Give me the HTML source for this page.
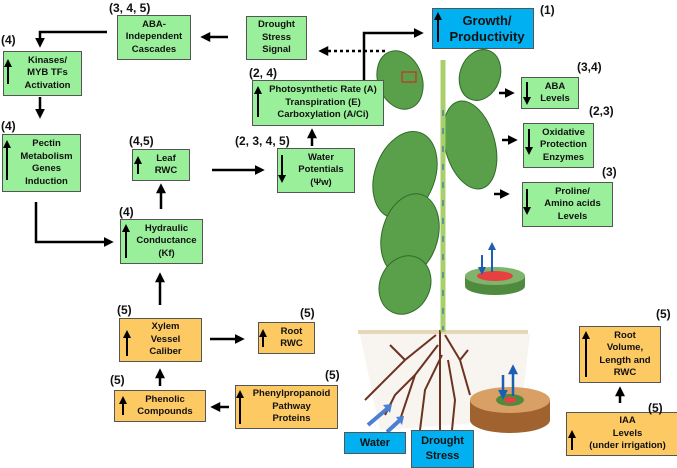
<!DOCTYPE html>
<html><head><meta charset="utf-8"><style>
body{margin:0;width:677px;height:466px;background:#fff;position:relative;overflow:hidden;font-family:"Liberation Sans",sans-serif;}
.b{position:absolute;box-sizing:border-box;border:1.3px solid #555;font-weight:bold;font-size:9.5px;line-height:12.5px;color:#111;display:flex;align-items:center;justify-content:center;text-align:center;padding-left:10px;}
.g{background:#9af09a;}
.o{background:#fcc963;}
.bl{background:#00b0f0;padding-left:0;}
.l{position:absolute;font-weight:bold;font-size:12px;color:#111;}
svg{position:absolute;left:0;top:0;}
</style></head><body>
<svg width="677" height="466" viewBox="0 0 677 466">
<defs>
<marker id="a" markerWidth="4" markerHeight="4" refX="2.5" refY="2" orient="auto" markerUnits="strokeWidth"><path d="M0,0 L4,2 L0,4 z" fill="#000"/></marker>
<marker id="u" markerWidth="4" markerHeight="4" refX="2.5" refY="2" orient="auto" markerUnits="strokeWidth"><path d="M0,0 L4,2 L0,4 z" fill="#1a5fb4"/></marker>
</defs>
<rect x="358" y="330" width="170" height="4" fill="#e8d6b8"/>
<path d="M360,334 L530,334 L520,420 L380,430 z" fill="#f4ede4" opacity="0.6"/>
<g stroke="#6b3320" stroke-width="2" fill="none">
<path d="M440,330 L440,430"/><path d="M436,335 L405,360 L380,385 L365,400"/><path d="M438,345 L415,375 L400,420"/>
<path d="M445,335 L460,360 L470,395"/><path d="M442,355 L425,390 L420,430"/><path d="M405,360 L390,345"/><path d="M415,375 L395,395 L385,415"/>
<path d="M448,360 L455,400 L452,430"/><path d="M460,360 L468,350"/>
</g>
<g fill="#5aa04a" stroke="#2f6b2a" stroke-width="1">
<ellipse cx="400" cy="80" rx="22" ry="30" transform="rotate(-20 400 80)"/>
<ellipse cx="480" cy="75" rx="20" ry="26" transform="rotate(20 480 75)"/>
<ellipse cx="470" cy="145" rx="25" ry="45" transform="rotate(-15 470 145)"/>
<ellipse cx="405" cy="175" rx="30" ry="45" transform="rotate(20 405 175)"/>
<ellipse cx="410" cy="235" rx="28" ry="42" transform="rotate(15 410 235)"/>
<ellipse cx="405" cy="285" rx="25" ry="30" transform="rotate(25 405 285)"/>
</g>
<path d="M443,60 L443,332" stroke="#a8cf6a" stroke-width="5"/>
<path d="M443,110 L443,330" stroke="#1a5fb4" stroke-width="1" stroke-dasharray="6,12"/>
<rect x="402" y="72" width="14" height="10" fill="none" stroke="#c0392b" stroke-width="1.3"/>
<ellipse cx="495" cy="286" rx="30" ry="9" fill="#4f8a3e"/><rect x="465" y="276" width="60" height="10" fill="#4f8a3e"/>
<ellipse cx="495" cy="276" rx="30" ry="9" fill="#7fb46a"/><ellipse cx="495" cy="276" rx="18" ry="5" fill="#e84040"/>
<line x1="482" y1="255" x2="482" y2="272" stroke="#1a5fb4" stroke-width="2" marker-end="url(#u)"/>
<line x1="492" y1="272" x2="492" y2="245" stroke="#1a5fb4" stroke-width="2" marker-end="url(#u)"/>
<ellipse cx="510" cy="420" rx="40" ry="13" fill="#a0622e"/><rect x="470" y="400" width="80" height="20" fill="#a0622e"/>
<ellipse cx="510" cy="400" rx="40" ry="13" fill="#d9a066"/><ellipse cx="510" cy="400" rx="14" ry="6" fill="#4f8a3e"/><ellipse cx="510" cy="400" rx="6" ry="3" fill="#e84040"/>
<line x1="503" y1="375" x2="503" y2="396" stroke="#1a5fb4" stroke-width="2.5" marker-end="url(#u)"/>
<line x1="513" y1="396" x2="513" y2="368" stroke="#1a5fb4" stroke-width="2.5" marker-end="url(#u)"/>
<g stroke="#4a7fd4" stroke-width="4"><line x1="368" y1="425" x2="388" y2="408"/><line x1="387" y1="432" x2="400" y2="420"/></g>
<path d="M392,404 L383,405 L390,413 z M404,416 L396,417 L402,425 z" fill="#4a7fd4"/>
<g stroke="#000" stroke-width="2.5" fill="none">
<polyline points="107,32 40,32 40,44" marker-end="url(#a)"/>
<line x1="228" y1="37" x2="204" y2="37" marker-end="url(#a)"/>
<line x1="385" y1="51" x2="322" y2="51" stroke-dasharray="3,3" marker-end="url(#a)"/>
<polyline points="364,80 364,33 420,33" marker-end="url(#a)"/>
<line x1="40" y1="97" x2="40" y2="115" marker-end="url(#a)"/>
<polyline points="36,202 36,242 110,242" marker-end="url(#a)"/>
<line x1="212" y1="170" x2="261" y2="170" marker-end="url(#a)"/>
<line x1="312" y1="146" x2="312" y2="132" marker-end="url(#a)"/>
<line x1="161" y1="209" x2="161" y2="187" marker-end="url(#a)"/>
<line x1="160" y1="305" x2="160" y2="276" marker-end="url(#a)"/>
<line x1="210" y1="339" x2="241" y2="339" marker-end="url(#a)"/>
<line x1="160" y1="386" x2="160" y2="372" marker-end="url(#a)"/>
<line x1="229" y1="407" x2="214" y2="407" marker-end="url(#a)"/>
<line x1="499" y1="93" x2="511" y2="93" marker-end="url(#a)"/>
<line x1="502" y1="140" x2="514" y2="140" marker-end="url(#a)"/>
<line x1="494" y1="194" x2="506" y2="194" marker-end="url(#a)"/>
<line x1="620" y1="403" x2="620" y2="390" marker-end="url(#a)"/>
</g>
</svg>

<div class="b g" style="left:117px;top:15px;width:74px;height:45px;padding-left:0">ABA-<br>Independent<br>Cascades</div>
<div class="b g" style="left:246px;top:16px;width:61px;height:44px;padding-left:0">Drought<br>Stress<br>Signal</div>
<div class="b g" style="left:3px;top:51px;width:79px;height:45px">Kinases/<br>MYB TFs<br>Activation</div>
<div class="b g" style="left:252px;top:80px;width:132px;height:46px">Photosynthetic Rate (A)<br>Transpiration (E)<br>Carboxylation (A/Ci)</div>
<div class="b g" style="left:2px;top:134px;width:79px;height:58px">Pectin<br>Metabolism<br>Genes<br>Induction</div>
<div class="b g" style="left:132px;top:149px;width:58px;height:32px">Leaf<br>RWC</div>
<div class="b g" style="left:277px;top:148px;width:78px;height:45px">Water<br>Potentials<br>(Ψw)</div>
<div class="b g" style="left:120px;top:219px;width:83px;height:45px">Hydraulic<br>Conductance<br>(Kf)</div>
<div class="b bl" style="left:432px;top:8px;width:102px;height:41px;font-size:13px;line-height:16px;padding-left:8px">Growth/<br>Productivity</div>
<div class="b g" style="left:521px;top:77px;width:58px;height:32px">ABA<br>Levels</div>
<div class="b g" style="left:523px;top:123px;width:71px;height:45px">Oxidative<br>Protection<br>Enzymes</div>
<div class="b g" style="left:522px;top:182px;width:91px;height:45px">Proline/<br>Amino acids<br>Levels</div>
<div class="b o" style="left:119px;top:318px;width:83px;height:44px">Xylem<br>Vessel<br>Caliber</div>
<div class="b o" style="left:258px;top:322px;width:57px;height:32px">Root<br>RWC</div>
<div class="b o" style="left:114px;top:390px;width:92px;height:32px">Phenolic<br>Compounds</div>
<div class="b o" style="left:235px;top:385px;width:103px;height:44px">Phenylpropanoid<br>Pathway<br>Proteins</div>
<div class="b bl" style="left:344px;top:432px;width:62px;height:22px;font-size:11px">Water</div>
<div class="b bl" style="left:411px;top:430px;width:63px;height:38px;font-size:11px;line-height:15px">Drought<br>Stress</div>
<div class="b o" style="left:579px;top:326px;width:82px;height:57px">Root<br>Volume,<br>Length and<br>RWC</div>
<div class="b o" style="left:566px;top:412px;width:113px;height:44px">IAA<br>Levels<br>(under irrigation)</div>

<svg width="677" height="466" viewBox="0 0 677 466">
<defs>
<marker id="a2" markerWidth="4" markerHeight="4" refX="2.5" refY="2" orient="auto" markerUnits="strokeWidth"><path d="M0,0 L4,2 L0,4 z" fill="#000"/></marker>
</defs>
<g stroke="#000" stroke-width="2" fill="none">
<line x1="8" y1="84" x2="8" y2="62" marker-end="url(#a2)"/>
<line x1="7" y1="180" x2="7" y2="143" marker-end="url(#a2)"/>
<line x1="138" y1="174" x2="138" y2="159" marker-end="url(#a2)"/>
<line x1="258" y1="117" x2="258" y2="89" marker-end="url(#a2)"/>
<line x1="282" y1="155" x2="282" y2="180" marker-end="url(#a2)"/>
<line x1="126" y1="258" x2="126" y2="227" marker-end="url(#a2)"/>
<line x1="438" y1="42" x2="438" y2="15" marker-end="url(#a2)"/>
<line x1="527" y1="82" x2="527" y2="102" marker-end="url(#a2)"/>
<line x1="529" y1="129" x2="529" y2="152" marker-end="url(#a2)"/>
<line x1="527" y1="189" x2="527" y2="212" marker-end="url(#a2)"/>
<line x1="127" y1="356" x2="127" y2="333" marker-end="url(#a2)"/>
<line x1="263" y1="347" x2="263" y2="332" marker-end="url(#a2)"/>
<line x1="123" y1="415" x2="123" y2="399" marker-end="url(#a2)"/>
<line x1="240" y1="424" x2="240" y2="393" marker-end="url(#a2)"/>
<line x1="586" y1="377" x2="586" y2="334" marker-end="url(#a2)"/>
<line x1="572" y1="450" x2="572" y2="433" marker-end="url(#a2)"/>
</g>
</svg>

<div class="l" style="left:109px;top:1px">(3, 4, 5)</div>
<div class="l" style="left:1px;top:33px">(4)</div>
<div class="l" style="left:1px;top:119px">(4)</div>
<div class="l" style="left:129px;top:134px">(4,5)</div>
<div class="l" style="left:249px;top:66px">(2, 4)</div>
<div class="l" style="left:235px;top:134px">(2, 3, 4, 5)</div>
<div class="l" style="left:119px;top:205px">(4)</div>
<div class="l" style="left:540px;top:3px">(1)</div>
<div class="l" style="left:577px;top:60px">(3,4)</div>
<div class="l" style="left:589px;top:104px">(2,3)</div>
<div class="l" style="left:602px;top:165px">(3)</div>
<div class="l" style="left:117px;top:303px">(5)</div>
<div class="l" style="left:300px;top:306px">(5)</div>
<div class="l" style="left:110px;top:373px">(5)</div>
<div class="l" style="left:325px;top:368px">(5)</div>
<div class="l" style="left:656px;top:307px">(5)</div>
<div class="l" style="left:648px;top:401px">(5)</div>
</body></html>
